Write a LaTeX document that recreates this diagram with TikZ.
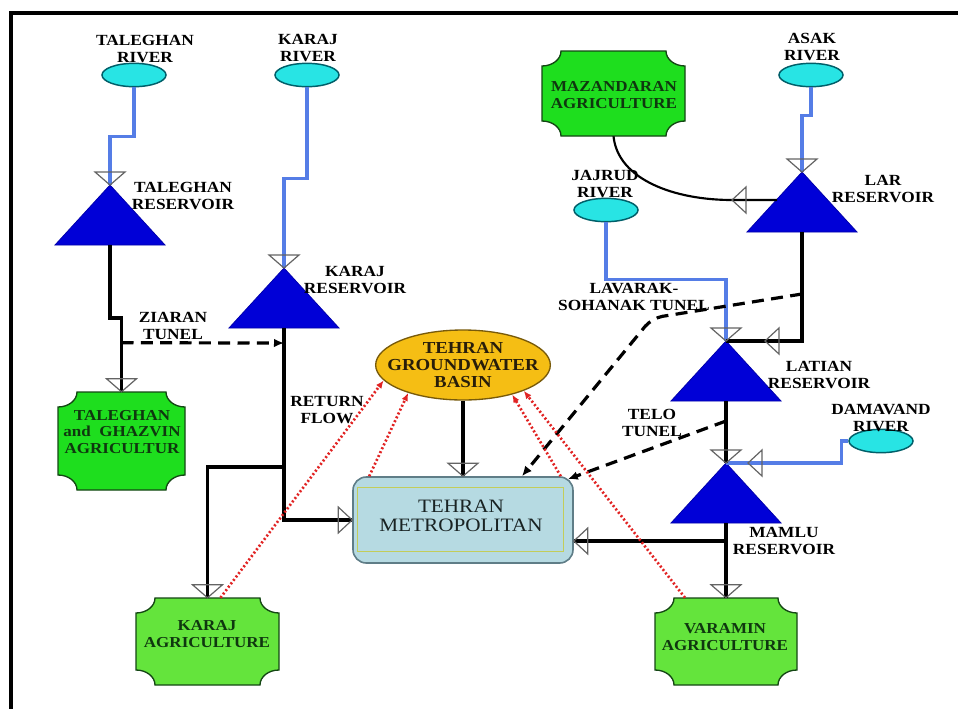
\documentclass[tikz,border=0pt]{standalone}
\usepackage{fontspec}
\setmainfont{Liberation Serif}[FakeStretch=1.12]
\usetikzlibrary{arrows.meta,calc,shapes.geometric}

\definecolor{rivfill}{RGB}{40,228,228}
\definecolor{rivedge}{RGB}{0,95,105}
\definecolor{rivline}{RGB}{85,125,230}
\definecolor{resblue}{RGB}{0,0,215}
\definecolor{agriA}{RGB}{30,222,30}
\definecolor{agriB}{RGB}{100,228,60}
\definecolor{agriedge}{RGB}{20,70,20}
\definecolor{agritxt}{RGB}{15,55,15}
\definecolor{gwfill}{RGB}{245,190,20}
\definecolor{gwedge}{RGB}{120,90,10}
\definecolor{metfill}{RGB}{182,218,226}
\definecolor{metedge}{RGB}{95,125,135}
\definecolor{metinner}{RGB}{195,205,90}
\definecolor{retred}{RGB}{225,35,35}
\definecolor{headgray}{RGB}{100,100,100}

\newcommand{\agri}[8]{%
  \def\agrx{19}\def\agry{15}\def\agkx{10.5}\def\agky{8.3}%
  \filldraw[fill=#6, draw=agriedge, line width=1pt]
    ({#2+\agrx},#3) -- ({#4-\agrx},#3)
    .. controls ({#4-\agrx},{#3+\agky}) and ({#4-\agkx},{#3+\agry}) .. (#4,{#3+\agry})
    -- (#4,{#5-\agry})
    .. controls ({#4-\agkx},{#5-\agry}) and ({#4-\agrx},{#5-\agky}) .. ({#4-\agrx},#5)
    -- ({#2+\agrx},#5)
    .. controls ({#2+\agrx},{#5-\agky}) and ({#2+\agkx},{#5-\agry}) .. (#2,{#5-\agry})
    -- (#2,{#3+\agry})
    .. controls ({#2+\agkx},{#3+\agry}) and ({#2+\agrx},{#3+\agky}) .. cycle;
  \node[inner sep=0pt, minimum width={(#4-#2)*0.75pt}, minimum height={(#5-#3)*0.75pt}] (#1) at ({(#2+#4)/2},{(#3+#5)/2}) {};
  \node[agritext] (#1t) at (#7) {#8};
}
\newcommand{\resv}[3]{%
  \coordinate (#1A) at (#2,#3);
  \coordinate (#1B) at (#2,{#3+60});
  \filldraw[fill=resblue, draw=resblue!80!black, line width=0.6pt] (#1A) -- ++(-55,60) -- ++(110,0) -- cycle;
}
\newcommand{\headdown}[1]{\draw[head] (#1) -- ++(-15,-13) -- ++(30,0) -- cycle;}
\newcommand{\headleft}[1]{\draw[head] (#1) -- ++(14,-13) -- ++(0,26) -- cycle;}
\newcommand{\headright}[1]{\draw[head] (#1) -- ++(-14,-13) -- ++(0,26) -- cycle;}

\begin{document}
\begin{tikzpicture}[x=0.75pt,y=-0.75pt,
  riv/.style={draw=rivline, line width=2.4pt},
  blk/.style={draw=black, line width=2.8pt},
  dsh/.style={draw=black, line width=2.4pt, dash pattern=on 9pt off 5.5pt, -{Latex[length=7.5pt,width=6.5pt]}},
  ret/.style={draw=retred, line width=2pt, dash pattern=on 1.5pt off 1.7pt, -{Latex[length=6pt,width=5pt]}},
  head/.style={draw=headgray, line width=0.9pt},
  rivnode/.style={ellipse, draw=rivedge, fill=rivfill, line width=1.1pt, minimum width=48pt, minimum height=17.5pt, inner sep=0pt},
  lbl/.style={font=\bfseries\fontsize{11.6}{12.5}\selectfont, align=center, inner sep=0pt, text=black},
  agritext/.style={font=\bfseries\fontsize{11.4}{12.5}\selectfont, align=center, inner sep=0pt, text=agritxt}]

\fill[white] (0,0) rectangle (958,708);
\useasboundingbox (0,0) rectangle (958,708);
\draw[line width=2.4pt, line cap=rect] (11,708) -- (11,13) -- (958,13);

% rivers
\node[rivnode] (trv) at (134,75) {};
\node[rivnode] (krv) at (307,75) {};
\node[rivnode] (arv) at (811,75) {};
\node[rivnode] (jrv) at (606,210) {};
\node[rivnode] (drv) at (881,441) {};

% reservoirs
\resv{ta}{110}{185}
\resv{ka}{284}{268}
\resv{la}{802}{172}
\resv{lt}{726}{341}
\resv{ma}{726}{463}

% demand sites
\agri{tagri}{58}{392}{185}{490}{agriA}{122,432}{TALEGHAN\\and\ \ GHAZVIN\\AGRICULTUR}
\agri{kagri}{136}{598}{279}{685}{agriB}{207,634}{KARAJ\\AGRICULTURE}
\agri{mag}{542}{51}{685}{136}{agriA}{614,95}{MAZANDARAN\\AGRICULTURE}
\agri{vagri}{655}{598}{797}{685}{agriB}{725,637}{VARAMIN\\AGRICULTURE}

\node[ellipse, draw=gwedge, fill=gwfill, line width=1pt, minimum width=131pt, minimum height=52.5pt, inner sep=0pt] (gw) at (463,365) {};
\node[font=\bfseries\fontsize{12.6}{12.5}\selectfont, align=center, inner sep=0pt, text={rgb,255:red,40;green,30;blue,10}] (gwt) at (463,365) {TEHRAN\\GROUNDWATER\\BASIN};

\node[rectangle, rounded corners=10pt, draw=metedge, fill=metfill, line width=1.2pt, minimum width=165pt, minimum height=64.5pt, inner sep=0pt] (metro) at (463,520) {};
\draw[metinner, line width=0.8pt] ($(metro.north west)+(5,11)$) rectangle ($(metro.south east)+(-10,-12)$);
\node[font=\fontsize{14.2}{14}\selectfont, align=center, inner sep=0pt, text={rgb,255:red,25;green,35;blue,35}] (metrot) at (461,516) {TEHRAN\\METROPOLITAN};

% labels
\node[lbl] (l1) at (145,49) {TALEGHAN\\RIVER};
\node[lbl] (l2) at (308,48) {KARAJ\\RIVER};
\node[lbl] (l3) at (183,196) {TALEGHAN\\RESERVOIR};
\node[lbl] (l4) at (355,280) {KARAJ\\RESERVOIR};
\node[lbl] (l5) at (173,326) {ZIARAN\\TUNEL};
\node[lbl] (l6) at (327,410) {RETURN\\FLOW};
\node[lbl] (l7) at (812,47) {ASAK\\RIVER};
\node[lbl] (l8) at (605,184) {JAJRUD\\RIVER};
\node[lbl] (l9) at (883,189) {LAR\\RESERVOIR};
\node[lbl] (l10) at (634,297) {LAVARAK-\\SOHANAK TUNEL};
\node[lbl] (l11) at (819,375) {LATIAN\\RESERVOIR};
\node[lbl] (l12) at (652,423) {TELO\\TUNEL};
\node[lbl] (l13) at (881,418) {DAMAVAND\\RIVER};
\node[lbl] (l14) at (784,541) {MAMLU\\RESERVOIR};

% river links
\draw[riv] (trv.south) -- ++(0,49) -| (taA);
\draw[riv] (krv.south) -- ++(0,91) -| (kaA);
\draw[riv] (arv.south) -- ++(0,28) -| (laA);
\draw[riv] (jrv.south) -- ++(0,57) -| (ltA);
\draw[riv] (drv.west) -- ++(-7,0) |- (maA);

% black links
\draw[blk] (taB) -- ++(0,73) -| (tagri.north);
\coordinate (kj) at (284,467);
\draw[blk] (kaB) |- (metro.west);
\draw[blk] (kj) -| (kagri.north);
\draw[blk] (laB) |- (ltA);
\coordinate (lzs) at ($(laA)+(-25,28)$);
\coordinate (mzc) at ($(laA)+(-70,28)$);
\draw[black, line width=1.6pt] (lzs) -- (mzc) .. controls (675,200) and (618,180) .. (mag.south);
\draw[blk] (ltB) -- (maA);
\draw[blk] (maB) -- (vagri.north);
\coordinate (mj) at (726,541);
\draw[blk] (mj) -- (metro.east |- mj);
\draw[blk] (gw.south) -- (metro.north);

% tunnels
\coordinate (zs) at ($(tagri.north)+(0,-49)$);
\coordinate (ze) at ($(kaB)+(0,15)$);
\draw[dsh] (zs) -- (ze);
\coordinate (lvs) at ($(laB)+(0,62)$);
\draw[dsh, rounded corners=8pt] (lvs) -- (652,318) -- ($(metro.north)+(59,0)$);
\coordinate (tls) at ($(ltB)+(0,20)$);
\draw[dsh] (tls) -- ($(metro.north east)+(-6,3)$);

% return flows
\draw[ret] ($(kagri.north)+(13,0)$) -- (gw.191);
\draw[ret] ($(metro.north west)+(17,0)$) -- (gw.207);
\draw[ret] ($(metro.north east)+(-13,0)$) -- (gw.329);
\draw[ret] ($(vagri.north)+(-41,0)$) -- (gw.337);

% hollow arrowheads
\headdown{taA}
\headdown{kaA}
\headdown{laA}
\headdown{ltA}
\headdown{maA}
\headleft{$(ltA)+(39,0)$}
\headleft{$(maA)+(22,0)$}
\headleft{mzc}
\headdown{tagri.north}
\headdown{kagri.north}
\headdown{vagri.north}
\headdown{metro.north}
\headright{metro.west}
\headleft{metro.east |- mj}
\end{tikzpicture}
\end{document}
